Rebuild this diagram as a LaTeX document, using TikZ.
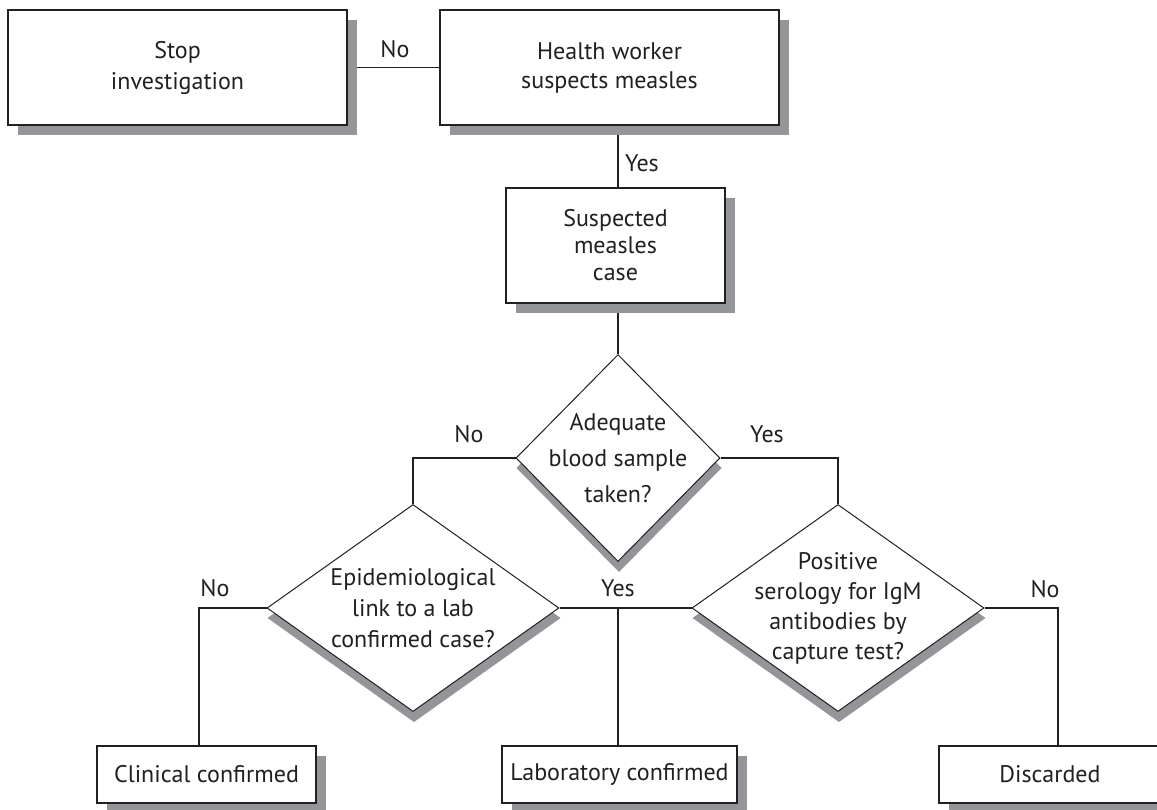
\documentclass[tikz,border=0pt]{standalone}
\usepackage{fontspec}
\setmainfont{PT Sans}
\usetikzlibrary{positioning}
\usetikzlibrary{shapes.geometric, backgrounds}

\definecolor{shadowgray}{HTML}{939598}
\definecolor{inkgray}{HTML}{231F20}

\tikzset{
  shadowed/.style={preaction={fill=shadowgray, draw=none, transform canvas={shift={(#1)}}}},
  box/.style={draw=inkgray, line width=0.75pt, fill=white, align=center, inner sep=0pt, text=inkgray,
    shadowed={10,10}},
  decision/.style={diamond, draw=inkgray, line width=0.5pt, fill=white, align=center, inner sep=-12pt, text=inkgray},
  link/.style={draw=inkgray, line width=0.6pt},
  lbl/.style={anchor=base, inner sep=0pt, text=inkgray}
}

\begin{document}
\begin{tikzpicture}[x=0.5pt, y=-0.5pt, font=\fontsize{12}{14.5}\selectfont]
    \useasboundingbox (0,0) rectangle (1157,809);

    % Cajas
    \node[box, minimum width=169.5pt, minimum height=57.5pt, font=\fontsize{12}{15.5}\selectfont] (stop) at (177.5,67.5) {Stop\\investigation};
    \node[box, minimum width=169.5pt, minimum height=57.5pt] (health) at (609.5,67.5) {Health worker\\suspects measles};
    \node[box, minimum width=109.5pt, minimum height=57.5pt, font=\fontsize{12}{13.5}\selectfont] (suspected) at (615.5,245.5) {Suspected\\measles\\case};

    % Decisiones
    \node[decision, minimum width=102pt, minimum height=103.5pt, font=\fontsize{12}{18}\selectfont] (adequate) at (618,458) {Adequate\\blood sample\\taken?};
    \node[decision, minimum width=146pt, minimum height=103.5pt, font=\fontsize{12}{15.5}\selectfont] (epid) at (413,608) {Epidemiological\\link to a lab\\confirmed case?};
    \node[decision, minimum width=146pt, minimum height=103.5pt, font=\fontsize{12}{15}\selectfont] (positive) at (838,608) {Positive\\serology for IgM\\antibodies by\\capture test?};

    % Resultados
    \node[box, minimum width=109.5pt, minimum height=28.5pt] (clinical) at (206.5,774.5) {Clinical confirmed};
    \node[box, minimum width=117.5pt, minimum height=28.5pt] (lab) at (619.5,774.5) {Laboratory confirmed};
    \node[box, minimum width=111pt, minimum height=28.5pt] (discarded) at (1050,774.5) {Discarded};

    % Conectores y sombras
    \begin{scope}[on background layer]
        \draw[link] (stop.east) -- (health.west);
        \draw[link] (adequate |- health.south) -- (adequate |- suspected.north);
        \draw[link] (adequate |- suspected.south) -- (adequate.north);
        \draw[link] (adequate.west) -| (epid.north);
        \draw[link] (adequate.east) -| (positive.north);
        \draw[link] (epid.east) -- (positive.west);
        \draw[link] (adequate |- epid.east) -- (adequate |- lab.north);
        \draw[link] (epid.west) -| ([xshift=-3.75pt]clinical.north);
        \draw[link] (positive.east) -| ([xshift=4pt]discarded.north);
        \foreach \d in {adequate, epid, positive}
            \fill[shadowgray] ([shift={(0.5pt,-5pt)}]\d.north) -- ([shift={(0.5pt,-5pt)}]\d.east)
                -- ([shift={(0.5pt,-5pt)}]\d.south) -- ([shift={(0.5pt,-5pt)}]\d.west) -- cycle;
    \end{scope}

    % Etiquetas
    \node[lbl] (nostop) at (395,57) {No};
    \node[lbl] (yeshealth) at (642,171) {Yes};
    \node[lbl] (noblood) at (469,442) {No};
    \node[lbl] (yesblood) at (767,442) {Yes};
    \node[lbl] (yeslink) at (618,596) {Yes};
    \node[lbl] (nolink) at (215,596) {No};
    \node[lbl] (noserology) at (1045,597) {No};

\end{tikzpicture}
\end{document}
